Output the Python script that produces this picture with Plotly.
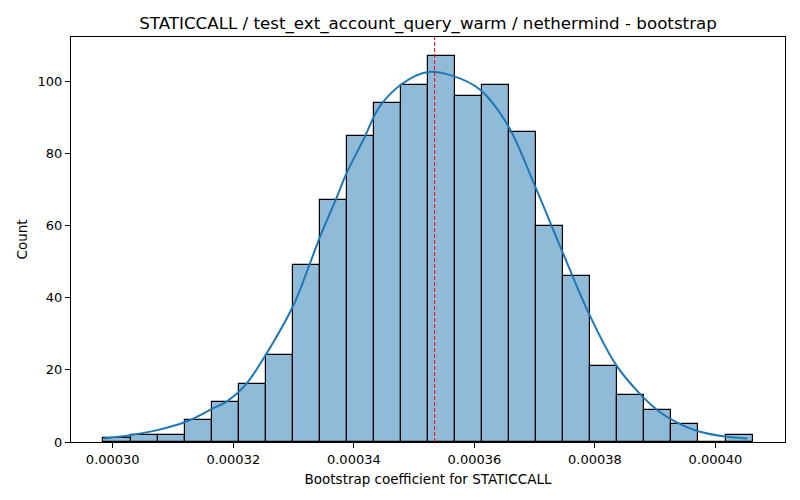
"""Bootstrap histogram for STATICCALL coefficient, with KDE and mean marker."""

import numpy as np
import plotly.graph_objects as go

# histogram: 24 equal bins
BIN_START = 0.00029846
BIN_WIDTH = 4.487e-6
COUNTS = [1, 2, 2, 6, 11, 16, 24, 49, 67, 85, 94, 99,
          107, 96, 99, 86, 60, 46, 21, 13, 9, 5, 0, 2]

# kde curve (already scaled to counts)
KDE_X = [0.0002985, 0.0003029, 0.0003074, 0.0003118, 0.0003140, 0.0003165,
         0.0003189, 0.0003220, 0.0003254, 0.0003300, 0.0003326, 0.0003344,
         0.0003369, 0.0003388, 0.0003416, 0.0003443, 0.0003482, 0.0003521,
         0.0003565, 0.0003609, 0.0003655, 0.0003703, 0.0003747, 0.0003791,
         0.0003835, 0.0003879, 0.0003907, 0.0003934, 0.0003973, 0.0004016,
         0.0004053]
KDE_Y = [1.0, 1.9, 3.3, 5.4, 7.0, 9.2,
         11.2, 15.8, 24.2, 38.0, 49.0, 57.0,
         66.8, 74.6, 83.9, 93.1, 99.6, 102.6,
         101.5, 97.8, 88.0, 70.0, 52.4, 35.3,
         21.4, 12.6, 8.4, 5.6, 2.9, 1.5,
         1.0]

MEAN_X = 0.0003534

X_TICKS = [0.00030, 0.00032, 0.00034, 0.00036, 0.00038, 0.00040]
Y_TICKS = [0, 20, 40, 60, 80, 100]

TITLE = "STATICCALL / test_ext_account_query_warm / nethermind - bootstrap"
X_LABEL = "Bootstrap coefficient for STATICCALL"
Y_LABEL = "Count"

BLUE = "#1f77b4"

centers = BIN_START + BIN_WIDTH * (np.arange(len(COUNTS)) + 0.5)
x_lo = BIN_START
x_hi = BIN_START + BIN_WIDTH * len(COUNTS)
pad = 0.05 * (x_hi - x_lo)

fig = go.Figure()

fig.add_trace(go.Bar(
    x=centers, y=COUNTS, width=BIN_WIDTH,
    marker=dict(color="rgba(31,119,180,0.5)",
                line=dict(color="black", width=1.2)),
    hoverinfo="skip",
))

fig.add_trace(go.Scatter(
    x=KDE_X, y=KDE_Y, mode="lines",
    line=dict(color=BLUE, width=2, shape="spline", smoothing=1.0),
    hoverinfo="skip",
))

fig.add_vline(x=MEAN_X, line=dict(color="red", width=1, dash="4px,2px"))

axis_common = dict(
    showgrid=False, zeroline=False, automargin=False,
    showline=True, linecolor="black", linewidth=1, mirror=True,
    ticks="outside", ticklen=5, tickcolor="black", tickwidth=1,
    tickfont=dict(size=13, color="black"),
)

fig.update_layout(
    width=800, height=500,
    paper_bgcolor="white", plot_bgcolor="white",
    font=dict(family="DejaVu Sans", color="black"),
    showlegend=False,
    bargap=0,
    margin=dict(l=71, r=15, t=37, b=58, autoexpand=False),
    title=dict(text=TITLE, xref="paper", x=0.5, xanchor="center",
               yref="container", y=0.954, yanchor="middle",
               font=dict(size=16.7, color="black")),
    xaxis=dict(
        range=[x_lo - pad, x_hi + pad],
        tickvals=X_TICKS, tickformat=".5f",
        title=dict(text=X_LABEL, font=dict(size=13.5), standoff=8),
        **axis_common,
    ),
    yaxis=dict(
        range=[0, max(COUNTS) * 1.05],
        tickvals=Y_TICKS,
        title=dict(text=Y_LABEL, font=dict(size=13.5), standoff=6),
        **axis_common,
    ),
)

# the page body has an 8px default margin; drop it so the figure sits at 0,0
fig.write_html(
    "out.html",
    config={"displayModeBar": False},
    post_script="document.body.style.margin='0';",
)
